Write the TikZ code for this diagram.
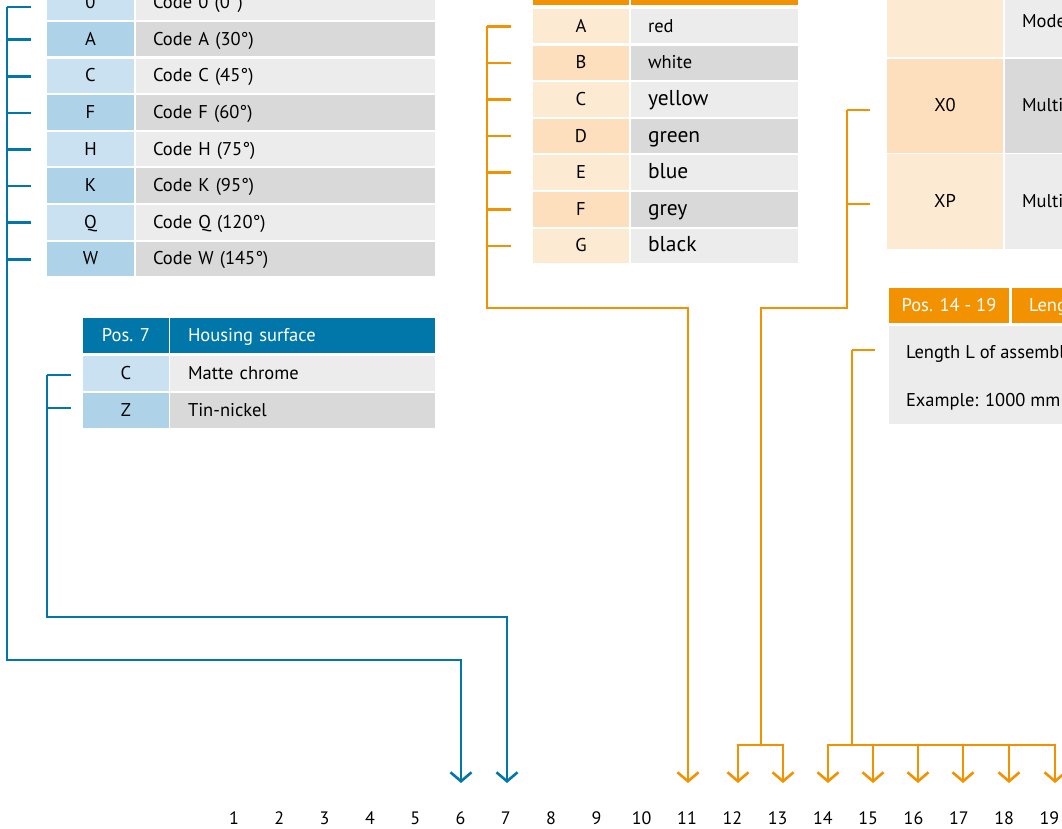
\documentclass[tikz,border=0pt]{standalone}
\usepackage{fontspec}
\setmainfont{PT Sans}
\usetikzlibrary{arrows.meta}
\definecolor{cblue}{HTML}{0077A8}
\definecolor{corange}{HTML}{F39200}
\definecolor{bluelight}{HTML}{C9E1F0}
\definecolor{bluedark}{HTML}{AED3E8}
\definecolor{orlight}{HTML}{FDEAD3}
\definecolor{ordark}{HTML}{FDDFBE}
\definecolor{graylight}{HTML}{ECECEC}
\definecolor{graydark}{HTML}{D9D9D9}
\begin{document}
\begin{tikzpicture}[x=1pt,y=-1pt,
  wire/.style={line width=2.6pt},
  bw/.style={wire,draw=cblue},
  ow/.style={wire,draw=corange},
  tip/.style={-{Straight Barb[length=9pt,width=21pt]}},
  fs/.style={font=\fontsize{18.5}{20}\selectfont},
  fb/.style={font=\fontsize{21.5}{24}\selectfont},
  cell/.style={inner sep=0pt,outer sep=0pt,text height=1.4em,text depth=0.2em,fs},
  keycell/.style={cell,align=center},
  valcell/.style={cell,align=left},
  txt/.style={inner sep=0pt,outer sep=0pt,text height=1.4em,text depth=0.2em,fs,anchor=west},
  hdr/.style={cell,text=white,fill=#1},
  num/.style={inner sep=0pt,text height=1.4em,text depth=0.2em,font=\fontsize{18}{20}\selectfont}
]
\useasboundingbox (0,0) rectangle (1062,829);
\clip (0,0) rectangle (1062,829);

% ---------------- left table (angle codes) ----------------
\foreach \k/\t/\i in {0/{Code 0 (0°)}/0,A/{Code A (30°)}/1,C/{Code C (45°)}/2,F/{Code F (60°)}/3,H/{Code H (75°)}/4,K/{Code K (95°)}/5,Q/{Code Q (120°)}/6,W/{Code W (145°)}/7}{
  \pgfmathsetmacro\yc{22+36.6*(\i-1)+17.25}
  \pgfmathsetmacro\yt{max(\yc+0.5,7)}
  \ifodd\i
    \node[keycell,fill=bluedark,minimum width=87pt,minimum height=34.5pt] (lk\i) at (90.5,\yc) {\k};
    \node[valcell,fill=graydark,text width=265pt,inner xsep=17pt,minimum height=34.5pt] (lv\i) at (285.5,\yc) {\t};
  \else
    \node[keycell,fill=bluelight,minimum width=87pt,minimum height=34.5pt] (lk\i) at (90.5,\yc) {\k};
    \node[valcell,fill=graylight,text width=265pt,inner xsep=17pt,minimum height=34.5pt] (lv\i) at (285.5,\yc) {\t};
  \fi
  \coordinate (lt\i) at (7,\yt);
  \draw[bw] (lt\i) -- (31,\yt);
}

% ---------------- Pos. 7 table ----------------
\node[hdr=cblue,minimum width=86pt,minimum height=35pt] (p7h) at (126,335.5) {Pos. 7};
\node[hdr=cblue,valcell,text width=229pt,inner xsep=18pt,minimum height=35pt] (p7hv) at (302.5,335.5) {Housing surface};
\node[keycell,fill=bluelight,minimum width=86pt,minimum height=35pt] (p7kC) at (126,373.5) {C};
\node[valcell,fill=graylight,text width=229pt,inner xsep=18pt,minimum height=35pt] (p7vC) at (302.5,373.5) {Matte chrome};
\node[keycell,fill=bluedark,minimum width=86pt,minimum height=35pt] (p7kZ) at (126,410.5) {Z};
\node[valcell,fill=graydark,text width=229pt,inner xsep=18pt,minimum height=35pt] (p7vZ) at (302.5,410.5) {Tin-nickel};
\coordinate (st7C) at (47,375);
\coordinate (st7Z) at (47,408);
\draw[bw] (st7C) -- (71,375);
\draw[bw] (st7Z) -- (71,408);

% ---------------- colour table ----------------
\fill[corange] (533,-5) rectangle (629,5);
\fill[corange] (631,-5) rectangle (798,5);
\foreach \k/\t/\f/\i in {A/red/fs/0,B/white/fs/1,C/yellow/fb/2,D/green/fb/3,E/blue/fb/4,F/grey/fb/5,G/black/fb/6}{
  \pgfmathsetmacro\yc{26.25+36.6*\i}
  \ifodd\i
    \node[keycell,fill=ordark,minimum width=96pt,minimum height=34.5pt] (ck\i) at (581,\yc) {\k};
    \node[valcell,\f,fill=graydark,text width=133pt,inner xsep=17pt,minimum height=34.5pt] (cv\i) at (714.5,\yc) {\t};
  \else
    \node[keycell,fill=orlight,minimum width=96pt,minimum height=34.5pt] (ck\i) at (581,\yc) {\k};
    \node[valcell,\f,fill=graylight,text width=133pt,inner xsep=17pt,minimum height=34.5pt] (cv\i) at (714.5,\yc) {\t};
  \fi
  \coordinate (ct\i) at (487,\yc);
  \draw[ow] (ct\i) -- (511,\yc);
}

% ---------------- right table ----------------
\node[cell,fill=orlight,minimum width=116pt,minimum height=95pt] (rk0) at (945,9.5) {};
\node[cell,fill=graylight,minimum width=200pt,minimum height=95pt] (rv0) at (1105,9.5) {};
\node[txt] (rt0) at (1022,22) {Model};
\node[keycell,fill=ordark,minimum width=116pt,minimum height=94pt] (rk1) at (945,106) {X0};
\node[cell,fill=graydark,minimum width=200pt,minimum height=94pt] (rv1) at (1105,106) {};
\node[txt] (rt1) at (1022,106) {Multi};
\node[keycell,fill=orlight,minimum width=116pt,minimum height=94pt] (rk2) at (945,201.5) {XP};
\node[cell,fill=graylight,minimum width=200pt,minimum height=94pt] (rv2) at (1105,201.5) {};
\node[txt] (rt2) at (1022,201.5) {Multi};
\coordinate (rtX0) at (847,110);
\coordinate (rtXP) at (847,204);
\draw[ow] (rtX0) -- (870,110);
\draw[ow] (rtXP) -- (870,204);

% ---------------- Pos. 14 - 19 table ----------------
\node[hdr=corange,minimum width=120pt,minimum height=35pt] (lh) at (949,305.5) {Pos. 14 - 19};
\node[cell,fill=corange,minimum width=200pt,minimum height=35pt] (lhv) at (1112,305.5) {};
\node[txt,text=white] (lht) at (1029,305.5) {Length};
\node[cell,fill=graylight,minimum width=320pt,minimum height=98pt] (lb) at (1049,375) {};
\node[txt] (lb1) at (906,352) {Length L of assembly};
\node[txt] (lb2) at (906,400) {Example: 1000 mm};
\coordinate (ltL) at (852,350);
\draw[ow] (ltL) -- (875,350);

% ---------------- position numbers ----------------
\foreach \n in {1,...,19}{
  \node[num] (n\n) at ({234+45.3*(\n-1)},818) {\n};
}
\foreach \n/\x in {6/461,7/507,11/688,12/738,13/783,14/828,15/873,16/918,17/963,18/1009,19/1055}{
  \coordinate (a\n) at (\x,783);
}
\coordinate (j1) at (761,745);
\coordinate (j2) at (852,745);

% ---------------- connectors ----------------
\draw[bw,tip] (lt0) -- (7,660) -| (a6);
\draw[bw,tip] (st7C) -- (47,617) -| (a7);
\draw[ow,tip] (ct0) -- (487,308) -| (a11);
\draw[ow] (rtX0) -- (847,308) -| (j1);
\draw[ow,tip] (j1) -| (a12);
\draw[ow,tip] (j1) -| (a13);
\draw[ow] (ltL) -- (j2);
\draw[ow,tip] (j2) -| (a14);
\foreach \n in {15,16,17,18,19}{
  \draw[ow,tip] (j2) -| (a\n);
}
\end{tikzpicture}
\end{document}
